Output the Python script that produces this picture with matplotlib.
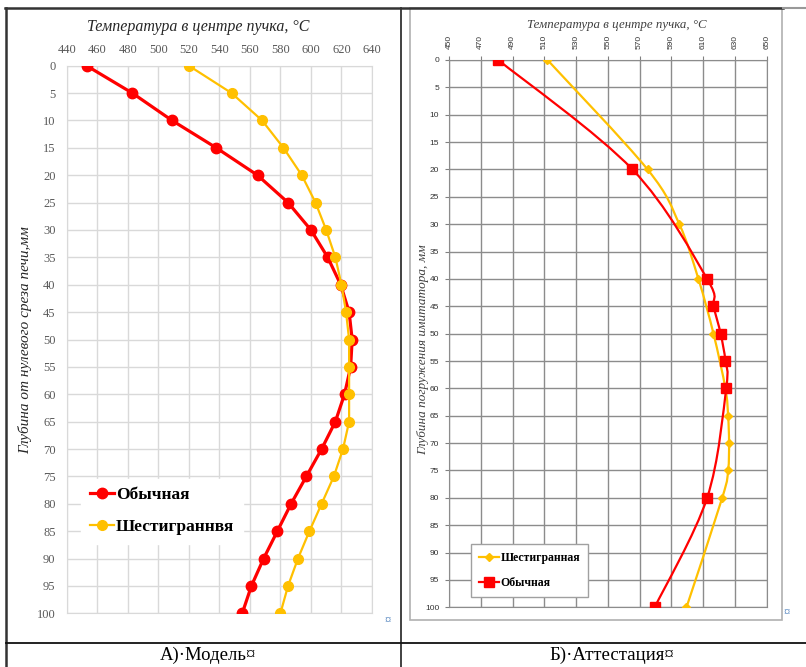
import numpy as np
import matplotlib
matplotlib.use("Agg")
import matplotlib.pyplot as plt
from matplotlib.lines import Line2D
from matplotlib.patches import PathPatch, Rectangle
from matplotlib.path import Path

# ==========================================
# Данные
# ==========================================
# А) Модель
depth_model = [0, 5, 10, 15, 20, 25, 30, 35, 40, 45, 50, 55, 60, 65, 70, 75, 80, 85, 90, 95, 100]
t_obych_model = [453, 483, 509, 538, 565, 585, 600, 611, 619.5, 625, 627, 626, 622, 616, 607, 597, 587, 578, 569, 561, 555]
t_shest_model = [520, 548, 568, 582, 594, 603, 610, 616, 620, 623, 625, 625, 625, 625, 621, 615, 607, 599, 591.5, 585, 580]

# Б) Аттестация
depth_obych_att = [0, 20, 40, 45, 50, 55, 60, 80, 100]
t_obych_att = [481, 565.5, 612.5, 616.5, 621, 624, 624.5, 612.5, 579.5]
depth_shest_att = [0, 20, 30, 40, 50, 60, 65, 70, 75, 80, 100]
t_shest_att = [512, 575, 595, 607, 616.5, 624, 625.7, 626.3, 625.7, 622, 599.5]

RED = '#ff0000'
YEL = '#ffc000'
SERIF = 'Liberation Serif'
SANS = 'Liberation Sans'

W, H = 806, 667


def fx(px):
    return px / W


def fy(py):
    return 1 - py / H


def smooth_path(x, y):
    # сглаженная линия как в Excel (Catmull-Rom через кривые Безье)
    pts = np.column_stack([x, y]).astype(float)
    n = len(pts)
    verts = [pts[0]]
    codes = [Path.MOVETO]
    for i in range(n - 1):
        p0 = pts[i - 1] if i > 0 else pts[i]
        p1 = pts[i]
        p2 = pts[i + 1]
        p3 = pts[i + 2] if i + 2 < n else pts[i + 1]
        verts += [p1 + (p2 - p0) / 6, p2 - (p3 - p1) / 6, p2]
        codes += [Path.CURVE4] * 3
    return Path(verts, codes)


fig = plt.figure(figsize=(W / 100, H / 100), dpi=100)

# ==========================================
# А) Модель
# ==========================================
ax1 = fig.add_axes([fx(66.7), fy(613.3), (372 - 66.7) / W, (613.3 - 65.7) / H])
ax1.plot(t_obych_model, depth_model, color=RED, lw=2.3, marker='o', ms=7.5, label='Обычная', zorder=3)
ax1.plot(t_shest_model, depth_model, color=YEL, lw=1.6, marker='o', ms=7, label='Шестиграннвя', zorder=4)
ax1.set_xlim(440, 640)
ax1.set_ylim(100, 0)
ax1.set_xticks(np.arange(440, 641, 20))
ax1.set_yticks(np.arange(0, 101, 5))
ax1.xaxis.tick_top()
ax1.tick_params(length=0, labelsize=9, labelcolor='#595959')
ax1.tick_params(axis='x', pad=7)
ax1.tick_params(axis='y', pad=8)
for lab in ax1.get_xticklabels() + ax1.get_yticklabels():
    lab.set_fontfamily(SERIF)
ax1.grid(True, color='#d9d9d9', lw=1)
for s in ax1.spines.values():
    s.set_color('#d9d9d9')
ax1.set_axisbelow(True)
leg1 = ax1.legend(loc='upper left', bbox_to_anchor=(0.02, 0.262), frameon=True, fancybox=False,
                  edgecolor='white', framealpha=1, handlelength=1.4, handletextpad=0.1,
                  labelspacing=0.9, borderpad=0.5,
                  prop={'family': SERIF, 'weight': 'bold', 'size': 12.5})

fig.text(fx(198), fy(27), 'Температура в центре пучка, °С', family=SERIF, style='italic',
         fontsize=11.5, color='#262626', ha='center', va='center')
fig.text(fx(25), fy(340), 'Глубина от нулевого среза печи,мм', family=SERIF, style='italic',
         fontsize=11, color='#262626', ha='center', va='center', rotation=90)

# ==========================================
# Б) Аттестация
# ==========================================
ax2 = fig.add_axes([fx(449), fy(607.3), (766.7 - 449) / W, (607.3 - 60) / H])
ax2.add_patch(PathPatch(smooth_path(t_shest_att, depth_shest_att), fc='none', ec=YEL, lw=1.6, zorder=3))
ax2.plot(t_shest_att, depth_shest_att, ls='none', marker='D', ms=4.5, color=YEL, zorder=3)
ax2.add_patch(PathPatch(smooth_path(t_obych_att, depth_obych_att), fc='none', ec=RED, lw=1.6, zorder=4))
ax2.plot(t_obych_att, depth_obych_att, ls='none', marker='s', ms=6.5, color=RED, zorder=4)
ax2.set_xlim(450, 650)
ax2.set_ylim(100, 0)
ax2.set_xticks(np.arange(450, 651, 20))
ax2.set_yticks(np.arange(0, 101, 5))
ax2.xaxis.tick_top()
ax2.tick_params(length=3, width=0.8, color='#808080', labelsize=6, labelcolor='#333333')
ax2.tick_params(axis='x', labelrotation=90, pad=5)
ax2.tick_params(axis='y', pad=4)
for lab in ax2.get_xticklabels() + ax2.get_yticklabels():
    lab.set_fontfamily(SANS)
ax2.grid(True, color='#8c8c8c', lw=1)
for s in ax2.spines.values():
    s.set_color('#8c8c8c')
ax2.set_axisbelow(True)
handles2 = [Line2D([], [], color=YEL, lw=1.6, marker='D', ms=4.5, label='Шестигранная'),
            Line2D([], [], color=RED, lw=1.6, marker='s', ms=6.5, label='Обычная')]
leg2 = ax2.legend(handles=handles2, loc='upper left', bbox_to_anchor=(0.05, 0.127), frameon=True,
                  fancybox=False, edgecolor='#a0a0a0', framealpha=1, handlelength=1.7,
                  handletextpad=0.1, labelspacing=1.1, borderpad=0.7,
                  prop={'family': SERIF, 'weight': 'bold', 'size': 8.5})
leg2.get_frame().set_linewidth(1.0)

fig.text(fx(617), fy(25), 'Температура в центре пучка, °С', family=SERIF, style='italic',
         fontsize=9.3, color='#404040', ha='center', va='center')
fig.text(fx(423), fy(350), 'Глубина погружения имитатора, мм', family=SERIF, style='italic',
         fontsize=9.5, color='#404040', ha='center', va='center', rotation=90)

# ==========================================
# Рамки таблицы и подписи
# ==========================================
fig.add_artist(Rectangle((fx(410), fy(620)), (782 - 410) / W, (620 - 8) / H, transform=fig.transFigure,
                         fc='none', ec='#b0b0b0', lw=1.2))
fig.add_artist(Line2D([fx(5), fx(783)], [fy(8), fy(8)], color='#333333', lw=1.8))
fig.add_artist(Line2D([fx(783), fx(806)], [fy(8), fy(8)], color='#999999', lw=1.5))
fig.add_artist(Line2D([fx(6), fx(6)], [fy(8), fy(667)], color='#333333', lw=1.8))
fig.add_artist(Line2D([fx(401), fx(401)], [fy(8), fy(667)], color='#333333', lw=1.3))
fig.add_artist(Line2D([fx(6), fx(806)], [fy(643), fy(643)], color='#111111', lw=1.3))

fig.text(fx(208), fy(655), 'А)·Модель¤', family=SERIF, fontsize=13.5, ha='center', va='center')
fig.text(fx(612), fy(655), 'Б)·Аттестация¤', family=SERIF, fontsize=13.5, ha='center', va='center')
fig.text(fx(388), fy(621), '¤', family=SERIF, fontsize=9, color='#4a7ebb', ha='center', va='center')
fig.text(fx(787), fy(613), '¤', family=SERIF, fontsize=9, color='#4a7ebb', ha='center', va='center')

plt.savefig('out.png', dpi=100)
plt.close()
